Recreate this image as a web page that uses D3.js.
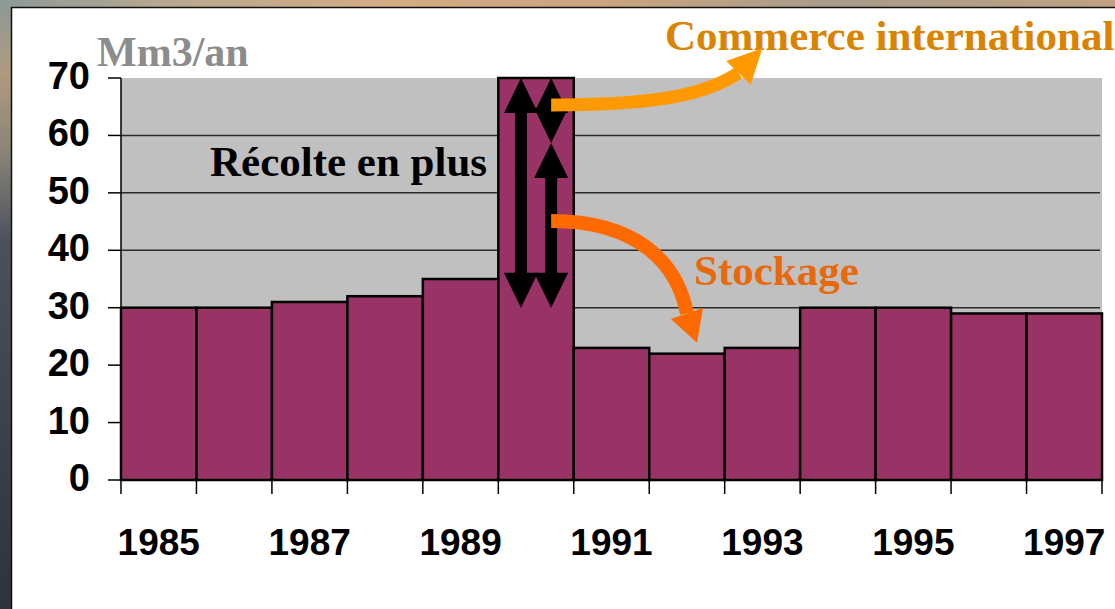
<!DOCTYPE html>
<html><head><meta charset="utf-8">
<script src="https://cdn.jsdelivr.net/npm/d3@7"></script>
<style>html,body{margin:0;padding:0;overflow:hidden;background:#fff}</style>
</head><body>
<script>
// ---- data ----
const years = [1985,1986,1987,1988,1989,1990,1991,1992,1993,1994,1995,1996,1997];
const harvest = [30,30,31,32,35,70,23,22,23,30,30,29,29];
const yTicks = [0,10,20,30,40,50,60,70];
const xLabels = [1985,1987,1989,1991,1993,1995,1997];
const unitLabel = "Mm3/an";
const commerceRange = [58.7, 70];
const stockageRange = [30, 58.7];
const surplusRange = [30, 70];

const W = 1115, H = 609;
const svg = d3.select("body").append("svg").attr("width", W).attr("height", H);
const defs = svg.append("defs");

// background (photo-like frame)
const gTop = defs.append("linearGradient").attr("id","gTop").attr("x1","0").attr("x2","1").attr("y1","0").attr("y2","0");
[["0%","#8c9a98"],["15%","#b8a890"],["35%","#d4ac84"],["55%","#c9a47e"],["75%","#a89c8c"],["100%","#c0a282"]]
  .forEach(s=>gTop.append("stop").attr("offset",s[0]).attr("stop-color",s[1]));
const gLeft = defs.append("linearGradient").attr("id","gLeft").attr("x1","0").attr("x2","0").attr("y1","0").attr("y2","1");
[["0%","#8c9a98"],["12%","#b09a80"],["25%","#8a8478"],["40%","#4a505c"],["100%","#2c323e"]]
  .forEach(s=>gLeft.append("stop").attr("offset",s[0]).attr("stop-color",s[1]));
svg.append("rect").attr("x",0).attr("y",0).attr("width",W).attr("height",H).attr("fill","url(#gLeft)");
svg.append("rect").attr("x",0).attr("y",0).attr("width",W).attr("height",8).attr("fill","url(#gTop)");
svg.append("rect").attr("x",11.5).attr("y",7.5).attr("width",W).attr("height",H).attr("fill","#fff").attr("stroke","#111").attr("stroke-width",1.5);

// scales
const x = d3.scaleBand().domain(years).range([121, 1102]).padding(0);
const y = d3.scaleLinear().domain([0,70]).range([480, 78]);
const bw = x.bandwidth();

// plot area
svg.append("rect").attr("x",121).attr("y",y(70)).attr("width",1102-121).attr("height",y(0)-y(70)).attr("fill","#c0c0c0");
// gridlines
svg.selectAll("line.grid").data(yTicks.filter(v=>v>0 && v<70)).join("line")
  .attr("x1",121).attr("x2",1100).attr("y1",d=>y(d)).attr("y2",d=>y(d))
  .attr("stroke","#2a2a2a").attr("stroke-width",1.5);

// bars
svg.selectAll("rect.bar").data(years).join("rect")
  .attr("x",d=>x(d)).attr("width",bw)
  .attr("y",(d,i)=>y(harvest[i])).attr("height",(d,i)=>y(0)-y(harvest[i]))
  .attr("fill","#993366").attr("stroke","#000").attr("stroke-width",2.5);

// y axis
svg.append("line").attr("x1",121).attr("x2",121).attr("y1",y(70)).attr("y2",y(0)).attr("stroke","#000").attr("stroke-width",1.5);
svg.selectAll("line.yt").data(yTicks).join("line")
  .attr("x1",108).attr("x2",121).attr("y1",d=>y(d)).attr("y2",d=>y(d)).attr("stroke","#000").attr("stroke-width",1.5);
svg.selectAll("text.yl").data(yTicks).join("text")
  .attr("x",90).attr("y",d=>y(d)+11).attr("text-anchor","end")
  .attr("font-family","'Liberation Sans',Arial,sans-serif").attr("font-weight","bold").attr("font-size",38)
  .attr("fill","#000").text(d=>d);

// x axis
svg.append("line").attr("x1",121).attr("x2",1102).attr("y1",y(0)).attr("y2",y(0)).attr("stroke","#000").attr("stroke-width",2);
const edges = years.map(d=>x(d)).concat([x(years[years.length-1])+bw]);
svg.selectAll("line.xt").data(edges).join("line")
  .attr("x1",d=>d).attr("x2",d=>d).attr("y1",y(0)).attr("y2",y(0)+14).attr("stroke","#000").attr("stroke-width",1.5);
svg.selectAll("text.xl").data(xLabels).join("text")
  .attr("x",d=>x(d)+bw/2).attr("y",555).attr("text-anchor","middle")
  .attr("font-family","'Liberation Sans',Arial,sans-serif").attr("font-weight","bold").attr("font-size",37)
  .attr("fill","#000").text(d=>d);

// unit label
const serif = "'Liberation Serif','Times New Roman',serif";
svg.append("text").attr("x",97).attr("y",66).attr("font-family",serif).attr("font-weight","bold")
  .attr("font-size",42).attr("fill","#8c8c8c").text(unitLabel);

// annotations
svg.append("text").attr("x",210).attr("y",176).attr("font-family",serif).attr("font-weight","bold")
  .attr("font-size",43).attr("fill","#000").text("Récolte en plus");
svg.append("text").attr("x",665).attr("y",50).attr("font-family",serif).attr("font-weight","bold")
  .attr("font-size",43).attr("fill","#d98300").text("Commerce international");
svg.append("text").attr("x",694).attr("y",285).attr("font-family",serif).attr("font-weight","bold")
  .attr("font-size",43).attr("fill","#e8680c").text("Stockage");

// black double arrows
function dblArrow(cx, v0, v1){
  const yTop = y(v1), yBot = y(v0);
  const hw = 17, hl = 35, sw = 6;
  const g = svg.append("g").attr("fill","#000");
  g.append("rect").attr("x",cx-sw).attr("y",yTop+hl-2).attr("width",sw*2).attr("height",Math.max(0,yBot-yTop-2*hl+4));
  g.append("polygon").attr("points",[[cx,yTop],[cx-hw,yTop+hl],[cx+hw,yTop+hl]].join(" "));
  g.append("polygon").attr("points",[[cx,yBot],[cx-hw,yBot-hl],[cx+hw,yBot-hl]].join(" "));
}
const x90 = x(1990);
dblArrow(x90 + bw*0.3, surplusRange[0], surplusRange[1]);
dblArrow(x90 + bw*0.7, commerceRange[0], commerceRange[1]);
dblArrow(x90 + bw*0.7, stockageRange[0], stockageRange[1]);

// orange curved arrows
function curvedArrow(p0, c1, c2, p1, tip, width, headW, color){
  svg.append("path").attr("d",`M${p0[0]},${p0[1]} C${c1[0]},${c1[1]} ${c2[0]},${c2[1]} ${p1[0]},${p1[1]}`)
    .attr("fill","none").attr("stroke",color).attr("stroke-width",width);
  const dx = tip[0]-p1[0], dy = tip[1]-p1[1], L = Math.hypot(dx,dy);
  const nx = -dy/L, ny = dx/L;
  svg.append("polygon").attr("points",[tip,[p1[0]+nx*headW, p1[1]+ny*headW],[p1[0]-nx*headW, p1[1]-ny*headW]].join(" "))
    .attr("fill",color);
}
const xs = x90 + bw*0.7;
const xc = x(1993) + bw/2;
curvedArrow([xs, y(65.3)], [xs+90, y(65.3)], [xs+150, y(66.5)], [xc-24, y(70.9)], [xc, y(75.2)], 13, 17, "#ff9900");
const xd = x(1992) + bw/2;
curvedArrow([xs, y(45.1)], [xs+85, y(45.1)], [xd-10, y(38)], [xd, y(29)], [xd+10, y(23.9)], 14, 17, "#ff6a00");
</script>
</body></html>
